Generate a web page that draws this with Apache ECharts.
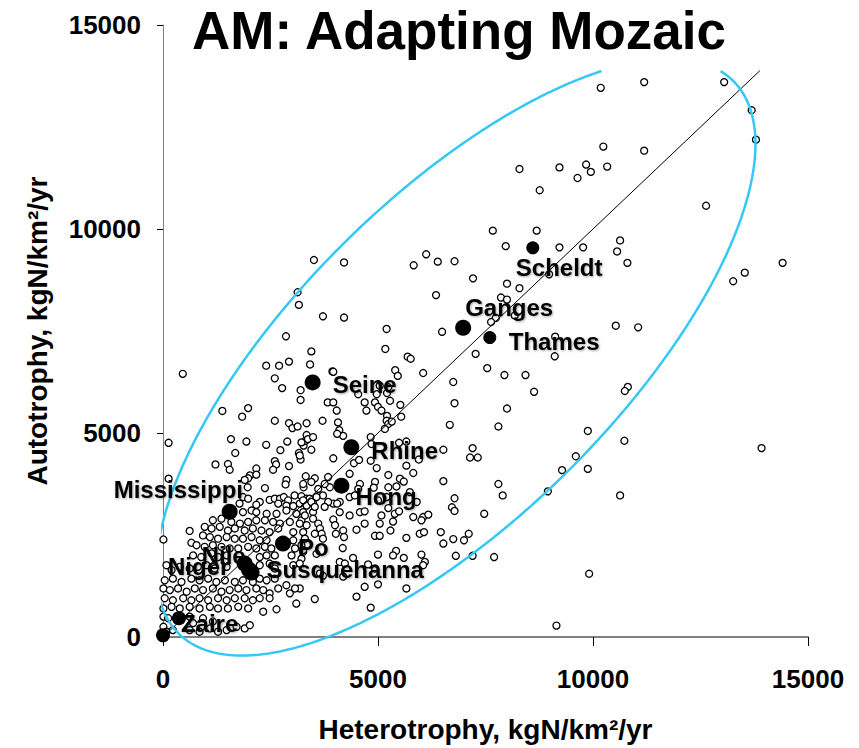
<!DOCTYPE html>
<html><head><meta charset="utf-8">
<script src="https://cdn.jsdelivr.net/npm/echarts@6/dist/echarts.min.js"></script>
<style>html,body{margin:0;padding:0;background:#fff}#c{width:859px;height:748px}</style>
</head><body><div id="c"></div>
<script>
// ---------------- data ----------------
const TITLE = 'AM: Adapting Mozaic';
const X_NAME = 'Heterotrophy, kgN/km²/yr';
const Y_NAME = 'Autotrophy, kgN/km²/yr';
const AXIS_TICKS = [0, 5000, 10000, 15000];

const RIVER_NAMES = ['Scheldt','Ganges','Thames','Seine','Rhine','Hong','Mississippi','Po','Nile','Niger','Susquehanna','Zaire',''];
const RIVER_HET   = [8600, 6980, 7600, 3480, 4380, 4150, 1550, 2790, 1900, 2000, 2060, 370, 0];
const RIVER_AUT   = [9540, 7580, 7340, 6240, 4650, 3710, 3070, 2290, 1800, 1650, 1580, 460, 40];

const OTHER_POINTS = [
[10180,13460],[11190,13600],[13050,13600],[13690,12910],[13790,12190],[10240,12020],[11190,11920],[8290,11470],[9220,11510],[9840,11580],[10330,11530],[9640,11250],[9950,11400],[8760,10950],[12630,10570],[7670,9960],[8690,9960],[10630,9720],[7970,9580],[9220,9550],[9770,9550],[10560,9450],[10800,9170],[6780,9210],[14410,9170],[13260,8720],[13530,8930],[8980,8890],[7210,8790],[8000,8660],[8290,8550],[7860,8320],[8000,8270],[8180,7880],[7740,7820],[7630,7720],[10530,7630],[11050,7590],[9120,7360],[9110,6880],[7270,6940],[7540,6590],[7940,6420],[8430,6420],[6750,6250],[8630,6010],[10810,6130],[10740,6030],[6780,5730],[8000,5600],[7800,5160],[6670,5200],[9880,5050],[10730,4810],[13920,4630],[7200,4630],[7140,4400],[7320,4400],[9600,4430],[9280,4090],[9880,4120],[7800,3750],[7900,3470],[6780,3400],[8950,3570],[10630,3470],[6720,3180],[6780,3090],[7470,3020],[7110,2530],[7000,2370],[6750,2400],[6810,1990],[7200,1990],[7700,1960],[9910,1550],[9150,280],
[3510,9240],[4210,9180],[3130,8450],[3160,8140],[3720,7860],[4210,7830],[2860,7370],[5830,9110],[6120,9380],[6390,9200],[6350,8380],[6490,7480],[5200,7550],[5170,7060],[5690,6870],[5760,6820],[5400,6540],[5460,6400],[6050,6470],[3450,7000],[3420,6680],[2930,6750],[2700,6650],[2400,6650],[3940,6510],[460,6450],[2600,6340],
[2770,6100],[3200,6050],[3200,5810],[1380,5540],[1980,5610],[1840,5400],[2600,5300],[2930,5240],[3010,5120],[3130,5160],[3340,5240],[130,4760],[1580,4850],[1940,4790],[1680,4510],[2400,4710],[2890,4790],[2730,4580],[3160,4510],[3270,4690],[3310,4810],[3200,4350],[1220,4230],[1510,4240],[1550,4100],[2600,4310],[2630,4230],[2560,4100],[2930,4190],[2170,4130],[2020,3960],[1980,3890],[2170,3980],[1900,3850],[3320,3940],[2870,3850],[2850,3740],[3270,3670],[130,3880],[1970,3670],[2370,3650],[1860,3430],[1980,3390],[1780,3270],[2250,3310],[2170,3240],[2480,3360],[2600,3390],[2720,3390],[2810,3430],[2910,3350],[3060,3470],[3220,3450],[3340,3390],[2870,3220],[3030,3210],[3180,3270],[3340,3220],
[3960,6500],[6520,4590],[6520,3820],[4540,5950],[4970,5950],[5210,5980],[5040,6160],[5240,6120],[3830,5750],[3960,5750],[4040,5550],[4690,5750],[4730,5550],[4930,5750],[5000,5640],[5080,5550],[5280,5790],[5520,5690],[5210,5420],[5200,5300],[5240,5220],[5160,5100],[5320,5280],[5540,5400],[3710,5300],[4070,5260],[4100,5070],[4190,4930],[4050,4980],[3340,4950],[3370,4850],[3490,4900],[3220,4770],[3450,4590],[3180,4450],[4830,4900],[4850,4730],[5490,4760],[5660,4790],[5950,4350],[3960,4380],[4440,4260],[4560,4340],[4830,4320],[4970,4140],[5660,4200],[5820,4020],[5240,3970],[4340,4000],[3530,3890],[3450,3800],[3260,3750],[3840,3920],[3880,3670],[3760,3750],[3610,3630],[3720,3470],[3570,3430],[3410,3390],[3260,3350],[3490,3270],[4580,3750],[4540,3630],[4930,3800],[4900,3660],[5240,3670],[5430,3690],[5510,3880],[5600,3810],[5740,3550],[5900,3310],[5200,3430],[5000,3350],[4340,3430],[4460,3470],[4110,3310],[3960,3270],[3840,3310],
[3450,3310],[3760,3190],[4050,3270],[3490,3060],[3530,3190],[3490,2900],[3260,3060],[3220,2860],[4110,3060],[4340,2980],[4580,3060],[4690,3080],[3960,2880],[4000,2740],[5080,2980],[5240,3160],[5390,3020],[5490,3080],[5350,2830],[5040,2780],[5820,2940],[6050,2940],[6170,3000],[6010,2860],[3610,2780],[3650,2660],[3690,2530],[3530,2530],[3720,2410],[4190,2610],[4500,2630],[4690,2780],[4210,2450],[4020,2530],[4930,2480],[5040,2480],[5290,2610],[5660,2430],[5970,2530],[6070,2570],[6460,2570],[6520,2290],[4180,2180],[3220,2250],[3260,2090],[3220,1920],[3570,2040],[5000,2020],[5420,2110],[5350,2000],[5600,1940],[6010,2020],[6090,1840],[6050,1760],[4420,1940],[4110,1840],[4230,1800],[4770,1780],[4930,1680],[4190,1480],[3720,1500],[3650,1560],[3180,1190],[4690,1230],[5000,1290],[5660,1190],[4500,990],[3530,930],[4830,720],
[10,2390],[620,2600],[660,2310],[2680,3270],
[1860,3060],[2060,3100],[2170,3060],[2410,3020],[2640,3020],[2870,3100],[3100,3020],[3300,2980],
[1160,2860],[1360,2900],[1590,2820],[1790,2780],[1980,2820],[2170,2860],[2370,2860],[2560,2820],[2720,2780],[2950,2820],[3180,2780],[3340,2740],
[970,2700],[1130,2660],[1320,2700],[1510,2610],[1670,2660],[1900,2610],[2090,2660],[2290,2610],[2480,2570],[2680,2660],[3030,2570],[3260,2570],
[930,2490],[1090,2450],[1280,2410],[1480,2450],[1670,2410],[1860,2410],[2060,2450],[2250,2370],[2410,2370],[3030,2370],[3300,2410],
[780,2250],[970,2210],[1160,2250],[1360,2210],[1550,2170],[1750,2170],[1980,2210],[2170,2170],[2370,2210],[2520,2170],[3070,2170],[3260,2130],
[700,2000],[890,1960],[1130,2050],[1280,1960],[1480,2000],[2250,1960],[2410,2000],[2600,2000],[2990,2000],
[80,1760],[200,1640],[390,1720],[620,1680],[810,1720],[1010,1760],[1200,1680],[1480,1720],[2250,1760],[2480,1800],[2600,1680],[3030,1760],[3180,1800],
[40,1390],[230,1430],[430,1350],[660,1430],[850,1390],[1050,1430],[1240,1350],[1440,1390],[1670,1350],[1860,1390],[2090,1350],[2250,1430],[2410,1390],[2600,1430],[2870,1270],[3070,1190],[2950,1070],[3100,820],
[10,1190],[160,1150],[350,1190],[550,1110],[740,1190],[930,1150],[1160,1190],[1360,1110],[1550,1150],[1750,1190],[1940,1150],[2170,1190],[2330,1150],[2480,1070],[2680,1190],
[40,950],[230,900],[470,950],[660,900],[850,950],[1050,900],[1280,950],[1480,900],[1670,950],[1900,950],[2090,900],[2250,950],[2480,950],
[10,700],[200,740],[390,700],[620,740],[850,700],[1090,740],[1280,700],[1510,700],[1750,740],[1980,700],[2330,620],[2640,680],
[10,500],[120,460],[620,500],[700,340],[930,460],[1160,380],
[10,250],[80,130],[230,170],[620,170],[850,130],[1090,210],[1280,130],[1480,170],[1710,250],[1900,210],[2020,290]
];

// 1:1 reference line and the envelope ellipse (data units)
const ONE_TO_ONE = [[0, 0], [13880, 13880]];
const ELLIPSE_CENTER = [6811, 6858];
const ELLIPSE_U = [6450, 6771];   // conjugate semi-diameter (major)
const ELLIPSE_V = [2633, -2764];  // conjugate semi-diameter (minor)
const CLIP_TOP = 13870;

// ---------------- styles / layout ----------------
const FONT = 'Liberation Sans, Arial, Helvetica, sans-serif';
const LABEL_OFFSETS = {
  Scheldt:[-17,20], Ganges:[2,-20], Thames:[19,4], Seine:[20,2], Rhine:[20,3], Hong:[14,11],
  Mississippi:[-116,-22], Po:[15,4], Nile:[-43,-8], Niger:[-81,-3], Susquehanna:[15,-3], Zaire:[2,5]
};
const DOT_SIZES = { Scheldt:13, Thames:13, Zaire:14, '':14 };

function ellipseLine() {
  const out = [];
  const n = 720;
  let prev = null;
  for (let i = 0; i <= n; i++) {
    const t = i / n * Math.PI * 2;
    const p = [
      ELLIPSE_CENTER[0] + ELLIPSE_U[0] * Math.cos(t) + ELLIPSE_V[0] * Math.sin(t),
      ELLIPSE_CENTER[1] + ELLIPSE_U[1] * Math.cos(t) + ELLIPSE_V[1] * Math.sin(t)
    ];
    const inside = p[1] <= CLIP_TOP;
    if (prev) {
      const pin = prev[1] <= CLIP_TOP;
      if (pin !== inside) {
        const f = (CLIP_TOP - prev[1]) / (p[1] - prev[1]);
        out.push([prev[0] + f * (p[0] - prev[0]), CLIP_TOP]);
        if (!inside) out.push(null);
      }
    }
    if (inside) out.push(p);
    prev = p;
  }
  return out;
}

const riverData = RIVER_NAMES.map((nm, i) => {
  const s = DOT_SIZES[nm] || 16;
  const off = LABEL_OFFSETS[nm] || [0, 0];
  return {
    name: nm,
    value: [RIVER_HET[i], RIVER_AUT[i]],
    symbolSize: s,
    label: { show: nm !== '', position: [s / 2 + off[0], s / 2 + off[1]] }
  };
});

const chart = echarts.init(document.getElementById('c'), null, { renderer: 'svg' });
const axisCommon = {
  type: 'value',
  min: AXIS_TICKS[0],
  max: AXIS_TICKS[AXIS_TICKS.length - 1],
  interval: AXIS_TICKS[1] - AXIS_TICKS[0],
  nameLocation: 'middle',
  nameTextStyle: { fontFamily: FONT, fontWeight: 'bold', fontSize: 28, color: '#000' },
  splitLine: { show: false },
  axisLabel: { fontFamily: FONT, fontWeight: 'bold', fontSize: 26, color: '#000', formatter: v => String(v) }
};
chart.setOption({
  animation: false,
  backgroundColor: '#fff',
  title: {
    text: TITLE, left: 454, top: -1, textAlign: 'center',
    textStyle: { fontFamily: FONT, fontWeight: 'bold', fontSize: 53, color: '#000' }
  },
  grid: { left: 163, right: 51, top: 25, bottom: 109, containLabel: false },
  xAxis: Object.assign({}, axisCommon, {
    name: X_NAME, nameGap: 78,
    axisLine: { show: true, onZero: false, lineStyle: { color: '#808080', width: 2 } },
    axisTick: { show: true, length: 9, lineStyle: { color: '#000', width: 1 } },
    axisLabel: Object.assign({}, axisCommon.axisLabel, { margin: 29 })
  }),
  yAxis: Object.assign({}, axisCommon, {
    name: Y_NAME, nameGap: 112,
    axisLine: { show: true, onZero: false, lineStyle: { color: '#808080', width: 1 } },
    axisTick: { show: true, length: 6, lineStyle: { color: '#000', width: 1 } },
    axisLabel: Object.assign({}, axisCommon.axisLabel, { margin: 22 })
  }),
  series: [
    {
      type: 'scatter', name: 'basins', data: OTHER_POINTS, symbol: 'circle', symbolSize: 7,
      itemStyle: { color: '#fff', borderColor: '#000', borderWidth: 1.3, opacity: 1 },
      z: 2, silent: true, clip: false
    },
    {
      type: 'line', name: '1:1', data: ONE_TO_ONE, showSymbol: false, symbol: 'none',
      lineStyle: { color: '#000', width: 1 }, z: 3, silent: true, clip: false
    },
    {
      type: 'line', name: 'envelope', data: ellipseLine(), showSymbol: false, symbol: 'none',
      connectNulls: false, smooth: false,
      lineStyle: { color: '#36c8f4', width: 2.5 }, z: 3, silent: true, clip: false
    },
    {
      type: 'scatter', name: 'rivers', data: riverData, symbol: 'circle',
      itemStyle: { color: '#000', opacity: 1 }, z: 5, silent: true, clip: false,
      label: {
        show: true, align: 'left', verticalAlign: 'middle',
        formatter: '{b}', fontFamily: FONT, fontWeight: 'bold', fontSize: 24, color: '#000',
        textShadowColor: 'rgba(0,0,0,0.35)', textShadowBlur: 2, textShadowOffsetX: 1, textShadowOffsetY: 1
      },
      labelLayout: { hideOverlap: false }
    }
  ]
});
</script>
</body></html>
